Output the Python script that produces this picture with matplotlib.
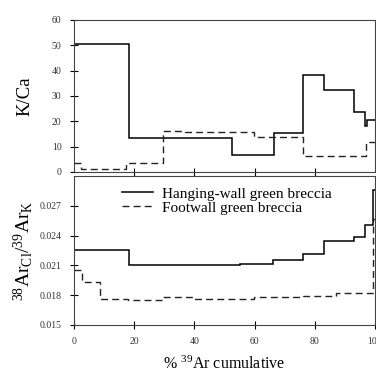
import numpy as np
import matplotlib
matplotlib.use("Agg")
import matplotlib.pyplot as plt

plt.rcParams['font.family'] = ['Liberation Serif', 'DejaVu Serif']
plt.rcParams['mathtext.fontset'] = 'custom'
plt.rcParams['mathtext.rm'] = 'Liberation Serif'
plt.rcParams['mathtext.it'] = 'Liberation Serif:italic'

# step edges (% 39Ar cumulative) and values
hw_kca_edges = [0, 18.1, 52.4, 66.3, 76.1, 83.0, 93.0, 96.6, 97.5, 100]
hw_kca = [50.5, 13.2, 6.5, 15.3, 38.3, 32.3, 23.7, 18.2, 20.5]

fw_kca_edges = [0, 2.3, 17.3, 29.4, 37.0, 59.8, 76.1, 97.2, 100]
fw_kca = [3.3, 1.1, 3.4, 16.1, 15.7, 13.8, 6.3, 11.6]

hw_ar_edges = [0, 18.1, 55.2, 66.1, 76.1, 83.0, 93.0, 96.8, 99.4, 100]
hw_ar = [0.0225, 0.0210, 0.0211, 0.02157, 0.0221, 0.02342, 0.02382, 0.02508, 0.0286]

fw_ar_edges = [0, 2.5, 8.5, 18.0, 29.6, 39.6, 59.8, 76.1, 87.0, 99.4, 100]
fw_ar = [0.02057, 0.01928, 0.01762, 0.01755, 0.01779, 0.01762, 0.0178, 0.01795, 0.01818, 0.0257]

labels = ["Hanging-wall green breccia", "Footwall green breccia"]

fig = plt.figure(figsize=(3.76, 3.76), dpi=100)
ax1 = fig.add_axes([0.197, 0.543, 0.800, 0.404])
ax2 = fig.add_axes([0.197, 0.136, 0.800, 0.396])

dash = (0, (5, 3))

# K/Ca panel
ax1.stairs(hw_kca, hw_kca_edges, baseline=None, color='black', lw=1.1)
ax1.stairs(fw_kca, fw_kca_edges, baseline=None, color='#222222', lw=1.0, linestyle=dash)
ax1.set_xlim(0, 100)
ax1.set_ylim(0, 60)
ax1.set_yticks(np.arange(0, 61, 10))
ax1.set_xticks([20, 40, 60, 80])
ax1.set_xticklabels([])
ax1.set_ylabel("K/Ca", fontsize=13.5, labelpad=13)

# Ar ratio panel
ax2.stairs(hw_ar, hw_ar_edges, baseline=None, color='black', lw=1.1, label=labels[0])
ax2.stairs(fw_ar, fw_ar_edges, baseline=None, color='#222222', lw=1.0, linestyle=dash, label=labels[1])
ax2.set_xlim(0, 100)
ax2.set_ylim(0.015, 0.030)
ax2.set_yticks([0.015, 0.018, 0.021, 0.024, 0.027])
ax2.set_yticklabels(["0.015", "0.018", "0.021", "0.024", "0.027"])
ax2.set_xticks(np.arange(0, 101, 20))
ax2.set_ylabel(r"$^{38}\mathrm{Ar}_{\mathrm{Cl}}/^{39}\mathrm{Ar}_{\mathrm{K}}$", fontsize=14, labelpad=3)
ax2.set_xlabel(r"% $^{39}$Ar cumulative", fontsize=11.5, labelpad=7)

for ax in (ax1, ax2):
    ax.tick_params(direction='inout', length=6, width=0.8, labelsize=7,
                   labelcolor='#333333', pad=6)
    for s in ax.spines.values():
        s.set_linewidth(0.8)
        s.set_color('#444444')

leg = ax2.legend(loc='upper left', bbox_to_anchor=(0.160, 0.925), frameon=False,
                 fontsize=11, handlelength=2.0, handletextpad=0.6,
                 labelspacing=0.0, borderaxespad=0, borderpad=0)

fig.savefig("out.png", dpi=100)
